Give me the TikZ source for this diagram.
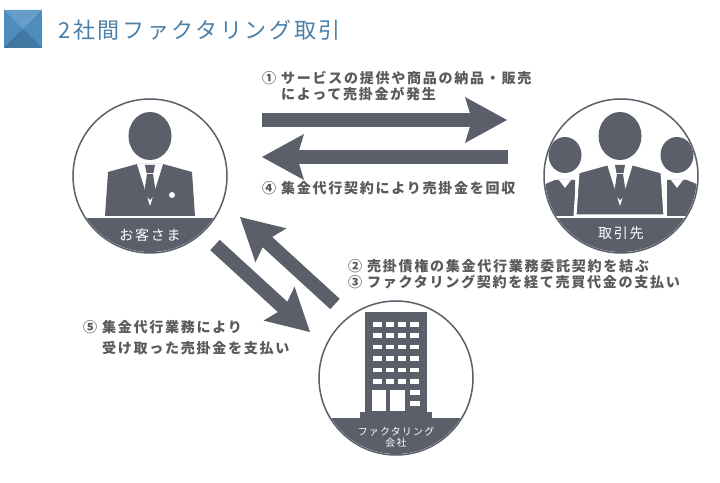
\documentclass[tikz,border=0pt]{standalone}
\usepackage{fontspec}
\setmainfont{Noto Sans CJK JP}
\newfontfamily\jptext[LetterSpace=12]{Noto Sans CJK JP}
\usetikzlibrary{arrows.meta}
\definecolor{inkgray}{HTML}{5A5F6A}
\definecolor{txtgray}{HTML}{5A5A5A}
\definecolor{titleblue}{HTML}{4A7FA8}
\definecolor{iconblue}{HTML}{4C8DBE}
\newcommand\suitman[3][]{%
  \begin{scope}[shift={(#2,#3)}]
    \fill[inkgray] (0,0) ellipse [x radius=21.5,y radius=24];
    \fill[inkgray,#1] (-45,80) -- (-42,36) -- (-13,28) -- (13,28) -- (42,36) -- (45,80) -- cycle;
    \fill[white] (-13,28) -- (13,28) -- (0,70) -- cycle;
    \fill[inkgray] (-5,29) -- (5,29) -- (3.5,37) -- (-3.5,37) -- cycle;
    \fill[inkgray] (-3,38) -- (3,38) -- (6,58) -- (0,64) -- (-6,58) -- cycle;
  \end{scope}}
\begin{document}
\begin{tikzpicture}[x=0.03cm,y=-0.03cm,
  every node/.style={inner sep=0pt},
  round/.style={circle,draw=inkgray,line width=0.045cm,minimum size=4.62cm},
  bandlabel/.style={text=white,align=center,font=\jptext\fontsize{12pt}{14pt}\selectfont},
  stepnote/.style={anchor=west,align=left,text=txtgray,font=\jptext\bfseries\fontsize{12pt}{13.6pt}\selectfont},
  bigarrow/.style={line width=0.42cm,draw=inkgray,
    -{Stealth[length=1.26cm,width=1.38cm,inset=0.21cm,line width=0pt]}}]
  \useasboundingbox (0,0) rectangle (720,483);

  \fill[white] (0,0) rectangle (720,483);

  % title
  \fill[iconblue] (4,10) rectangle (42,48);
  \fill[iconblue!85!white] (4,10) -- (42,10) -- (23,29) -- cycle;
  \fill[iconblue!85!black] (4,48) -- (42,48) -- (23,29) -- cycle;
  \node[anchor=west,text=titleblue,font=\jptext\fontsize{18.8pt}{22pt}\selectfont] (title) at (58,30) {2社間ファクタリング取引};

  % circles
  \node[round] (client) at (150,176) {};
  \node[round] (partner) at (621,176) {};
  \node[round] (factor) at (396,378) {};

  \begin{scope}
    \clip (client.center) circle (76);
    \fill[inkgray] (60,218) rectangle (240,260);
    \suitman{150}{136}
    \fill[white] (172,195) circle (3);
  \end{scope}
  \node[bandlabel] (clientname) at (150,235) {お客さま};

  \begin{scope}
    \clip (partner.center) circle (76);
    \fill[inkgray] (530,218) rectangle (710,260);
    \foreach \s in {-1,1}{
      \fill[inkgray] ({621+56*\s},155) ellipse [x radius=16.5,y radius=18];
      \fill[inkgray] ({621+80*\s},216) -- ({621+80*\s},186) -- ({621+66*\s},180) -- ({621+46*\s},180) -- ({621+46*\s},216) -- cycle;
      \fill[white] ({621+62*\s},180) -- ({621+50*\s},180) -- ({621+56*\s},188) -- cycle;
    }
    \suitman[draw=white,line width=0.09cm]{620}{136}
  \end{scope}
  \node[bandlabel] (partnername) at (621,233) {取引先};

  \begin{scope}
    \clip (factor.center) circle (76);
    \fill[inkgray] (310,418) rectangle (480,460);
    \fill[inkgray] (365,312) rectangle (427,418);
    \fill[inkgray] (360,412) rectangle (432,418);
    \foreach \c in {0,...,3}
      \foreach \r in {0,...,5}
        \fill[white] ({373.3+12.2*\c},{322+11.4*\r}) rectangle +(8.7,4.6);
    \fill[white] (372,390) rectangle (386,411.5);
    \fill[white] (389.5,390) rectangle (405,411.5);
    \fill[white] (410,390) rectangle (420,395);
    \fill[white] (410,401.5) rectangle (420,406.5);
  \end{scope}
  \node[bandlabel,font=\jptext\fontsize{8.5pt}{9.4pt}\selectfont] (factorname) at (396,437) {ファクタリング\\会社};

  % arrows
  \coordinate (saleL) at (262,120);
  \coordinate (saleR) at (507,120);
  \coordinate (collectR) at (508,157);
  \coordinate (collectL) at (262,157);
  \coordinate (payC) at (215,245);
  \coordinate (payF) at (310,332);
  \coordinate (contractF) at (335,304);
  \coordinate (contractC) at (240,217);
  \draw[bigarrow] (saleL) -- (saleR);
  \draw[bigarrow] (collectR) -- (collectL);
  \draw[bigarrow] (payC) -- (payF);
  \draw[bigarrow] (contractF) -- (contractC);

  % notes
  \node[stepnote] (step1) at (262,86) {① サービスの提供や商品の納品・販売\\\phantom{① }によって売掛金が発生};
  \node[stepnote] (step4) at (262,188) {④ 集金代行契約により売掛金を回収};
  \node[stepnote] (step23) at (348,274.5) {② 売掛債権の集金代行業務委託契約を結ぶ\\③ ファクタリング契約を経て売買代金の支払い};
  \node[stepnote,font=\jptext\bfseries\fontsize{12pt}{18pt}\selectfont] (step5) at (83,337.5) {⑤ 集金代行業務により\\\phantom{⑤ }受け取った売掛金を支払い};
\end{tikzpicture}
\end{document}
